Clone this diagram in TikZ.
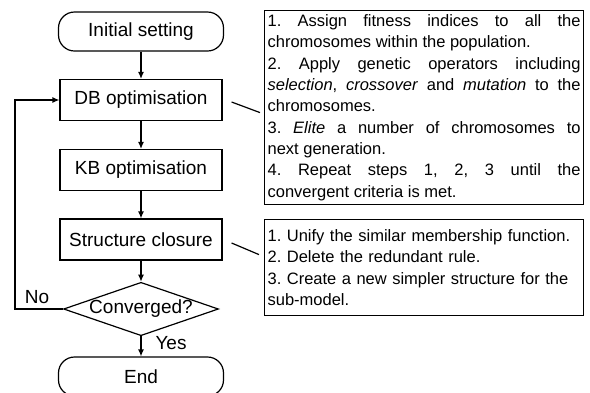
\documentclass[tikz,border=0pt]{standalone}
\usepackage{fontspec}
\setmainfont{Liberation Sans}
\usetikzlibrary{shapes.geometric,calc,arrows.meta}

\newcommand\notefont{\fontsize{16.5}{21.3}\selectfont\frenchspacing\hyphenpenalty=10000\relax}

\tikzset{
  flowfont/.style={font=\fontsize{19}{23}\selectfont},
  termbox/.style={draw,line width=1.2pt,rounded corners=16pt,minimum width=165pt,minimum height=39pt,flowfont},
  procbox/.style={draw,line width=1.2pt,minimum width=162pt,minimum height=41pt,flowfont},
  decbox/.style={draw,line width=1.2pt,diamond,aspect=2.9,inner sep=0pt,flowfont},
  notebox/.style={draw,line width=1.2pt,inner xsep=3pt,inner ysep=2pt,text width=313pt,font=\notefont},
  flow/.style={line width=1.2pt,-{Latex[length=7pt,width=6pt]}},
}

\begin{document}
\begin{tikzpicture}[x=1pt,y=-1pt]
    \useasboundingbox (0,0) rectangle (590,392);
    % flowchart
    \node[termbox] (init) at (141,31.5) {Initial setting};
    \node[procbox] (db) at (141,100) {DB optimisation};
    \node[procbox] (kb) at (141,170) {KB optimisation};
    \node[procbox] (sc) at (141,239.5) {Structure closure};
    \node[decbox] (conv) at (141,309) {Converged?};
    \node[termbox] (end) at (141,376.5) {End};

    \draw[flow] (init) -- (db);
    \draw[flow] (db) -- (kb);
    \draw[flow] (kb) -- (sc);
    \draw[flow] (sc) -- (conv);
    \draw[flow] (conv) -- (end);
    % loop back when not converged
    \draw[flow] (conv.west) -- ++(-48,0) |- (db.west);
    \node[flowfont] (no) at (37,297) {No};
    \node[flowfont] (yes) at (171,343) {Yes};

    % notes
    \node[notebox,anchor=north west,minimum height=194pt,align=justify] (note1) at (264,10)
      {1. Assign fitness indices to all the\linebreak chromosomes within the population.\par
       2. Apply genetic operators including\linebreak \textit{selection}, \textit{crossover} and \textit{mutation} to the\linebreak chromosomes.\par
       3. \textit{Elite} a number of chromosomes to\linebreak next generation.\par
       4. Repeat steps 1, 2, 3 until the\linebreak convergent criteria is met.};
    \node[notebox,anchor=north west,minimum height=96pt,align=left] (note2) at (264,219)
      {1. Unify the similar membership function.\\
       2. Delete the redundant rule.\\
       3. Create a new simpler structure for the\\
       sub-model.};

    \draw[line width=1.2pt] ([shift={(9,2)}]db.east) -- ([shift={(-4,5)}]note1.west);
    \draw[line width=1.2pt] ([shift={(9,3.5)}]sc.east) -- ([shift={(-5,-13)}]note2.west);
\end{tikzpicture}
\end{document}
